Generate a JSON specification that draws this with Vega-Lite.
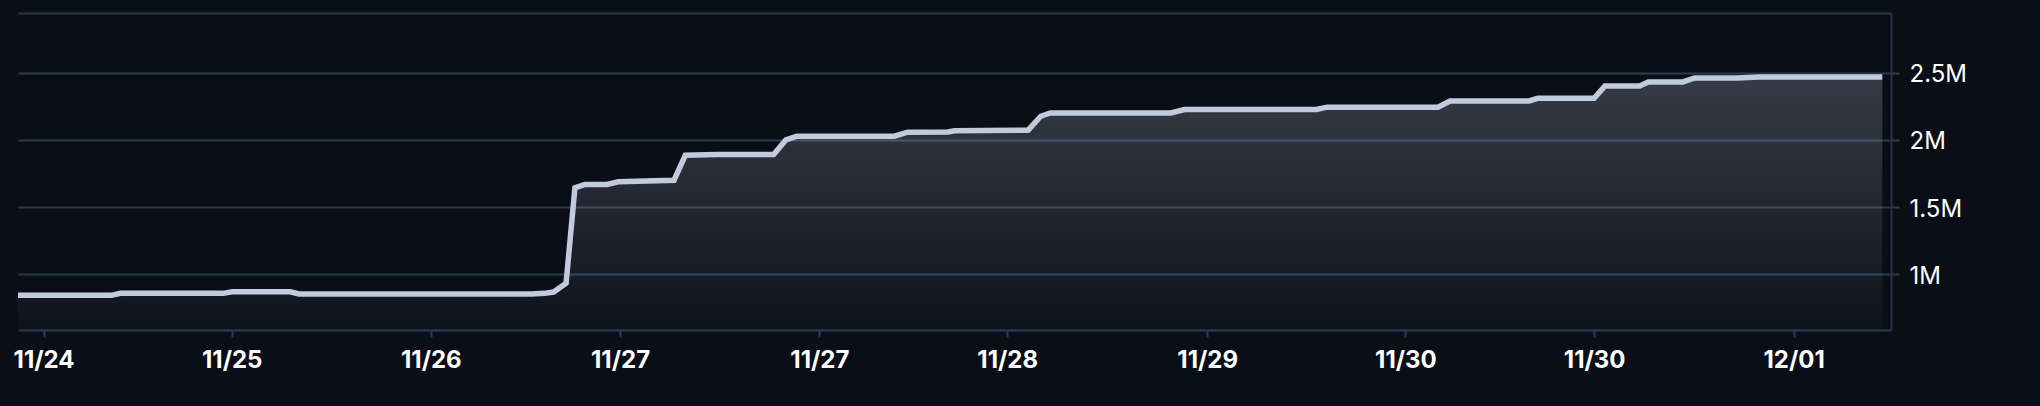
{
  "$schema": "https://vega.github.io/schema/vega-lite/v6.json",
  "width": 1873,
  "height": 317,
  "autosize": "none",
  "padding": {"left": 18, "top": 13, "right": 149, "bottom": 76},
  "background": "#0a0e17",
  "config": {"view": {"stroke": null}},
  "data": {
    "values": [
      {"time": "2024-11-24T15:27:00Z", "value": 841000},
      {"time": "2024-11-25T00:26:00Z", "value": 841000},
      {"time": "2024-11-25T01:17:00Z", "value": 856000},
      {"time": "2024-11-25T11:09:00Z", "value": 856000},
      {"time": "2024-11-25T12:01:00Z", "value": 868000},
      {"time": "2024-11-25T17:35:00Z", "value": 868000},
      {"time": "2024-11-25T18:26:00Z", "value": 851000},
      {"time": "2024-11-26T16:44:00Z", "value": 851000},
      {"time": "2024-11-26T18:01:00Z", "value": 856000},
      {"time": "2024-11-26T18:52:00Z", "value": 866000},
      {"time": "2024-11-26T20:04:00Z", "value": 931000},
      {"time": "2024-11-26T20:55:00Z", "value": 1643000},
      {"time": "2024-11-26T21:52:00Z", "value": 1668000},
      {"time": "2024-11-27T00:01:00Z", "value": 1668000},
      {"time": "2024-11-27T01:05:00Z", "value": 1688000},
      {"time": "2024-11-27T06:26:00Z", "value": 1700000},
      {"time": "2024-11-27T07:31:00Z", "value": 1887000},
      {"time": "2024-11-27T10:39:00Z", "value": 1892000},
      {"time": "2024-11-27T16:00:00Z", "value": 1892000},
      {"time": "2024-11-27T17:10:00Z", "value": 2000000},
      {"time": "2024-11-27T18:14:00Z", "value": 2028000},
      {"time": "2024-11-28T03:35:00Z", "value": 2028000},
      {"time": "2024-11-28T04:52:00Z", "value": 2058000},
      {"time": "2024-11-28T08:43:00Z", "value": 2060000},
      {"time": "2024-11-28T09:22:00Z", "value": 2068000},
      {"time": "2024-11-28T16:26:00Z", "value": 2073000},
      {"time": "2024-11-28T17:38:00Z", "value": 2177000},
      {"time": "2024-11-28T18:34:00Z", "value": 2202000},
      {"time": "2024-11-29T06:08:00Z", "value": 2202000},
      {"time": "2024-11-29T07:26:00Z", "value": 2227000},
      {"time": "2024-11-29T20:05:00Z", "value": 2227000},
      {"time": "2024-11-29T21:08:00Z", "value": 2245000},
      {"time": "2024-11-30T07:46:00Z", "value": 2245000},
      {"time": "2024-11-30T08:56:00Z", "value": 2291000},
      {"time": "2024-11-30T16:31:00Z", "value": 2291000},
      {"time": "2024-11-30T17:21:00Z", "value": 2311000},
      {"time": "2024-11-30T22:46:00Z", "value": 2311000},
      {"time": "2024-11-30T23:48:00Z", "value": 2403000},
      {"time": "2024-12-01T03:08:00Z", "value": 2403000},
      {"time": "2024-12-01T03:58:00Z", "value": 2433000},
      {"time": "2024-12-01T07:17:00Z", "value": 2433000},
      {"time": "2024-12-01T08:25:00Z", "value": 2463000},
      {"time": "2024-12-01T12:30:00Z", "value": 2463000},
      {"time": "2024-12-01T14:35:00Z", "value": 2470000},
      {"time": "2024-12-02T02:26:00Z", "value": 2470000}
    ]
  },
  "encoding": {
    "y": {
      "field": "value",
      "type": "quantitative",
      "scale": {"domain": [582700, 2947100], "nice": false, "zero": false},
      "axis": {
        "orient": "right",
        "values": [1000000, 1500000, 2000000, 2500000],
        "format": "~s",
        "title": null,
        "grid": true,
        "gridColor": "#2b3a53",
        "gridWidth": 2,
        "domain": true,
        "domainColor": "#2c2f46",
        "domainWidth": 2,
        "ticks": true,
        "tickColor": "#2b3a53",
        "tickWidth": 2,
        "tickSize": 8,
        "labelFont": "Inter",
        "labelFontSize": 24,
        "labelColor": "#ffffff",
        "labelPadding": 10,
        "labelOffset": 2
      }
    }
  },
  "layer": [
    {
      "mark": {
        "type": "area",
        "fill": {
          "gradient": "linear",
          "x1": 0, "y1": 0, "x2": 0, "y2": 1,
          "stops": [
            {"offset": 0, "color": "rgba(193,203,220,0.24)"},
            {"offset": 1, "color": "rgba(193,203,220,0.025)"}
          ]
        }
      },
      "encoding": {
        "x": {
          "field": "time",
          "type": "temporal",
          "scale": {
            "type": "utc",
            "domain": [
              {"year": 2024, "month": 11, "date": 24, "hours": 15, "minutes": 27, "utc": true},
              {"year": 2024, "month": 12, "date": 2, "hours": 3, "minutes": 16, "utc": true}
            ]
          },
          "axis": {
            "orient": "bottom",
            "title": null,
            "grid": false,
            "values": [
              {"year": 2024, "month": 11, "date": 24, "hours": 17, "minutes": 54, "utc": true},
              {"year": 2024, "month": 11, "date": 25, "hours": 11, "minutes": 58, "utc": true},
              {"year": 2024, "month": 11, "date": 26, "hours": 7, "minutes": 5, "utc": true},
              {"year": 2024, "month": 11, "date": 27, "hours": 1, "minutes": 15, "utc": true},
              {"year": 2024, "month": 11, "date": 27, "hours": 20, "minutes": 23, "utc": true},
              {"year": 2024, "month": 11, "date": 28, "hours": 14, "minutes": 25, "utc": true},
              {"year": 2024, "month": 11, "date": 29, "hours": 9, "minutes": 37, "utc": true},
              {"year": 2024, "month": 11, "date": 30, "hours": 4, "minutes": 39, "utc": true},
              {"year": 2024, "month": 11, "date": 30, "hours": 22, "minutes": 46, "utc": true},
              {"year": 2024, "month": 12, "date": 1, "hours": 17, "minutes": 55, "utc": true}
            ],
            "labelExpr": "utcFormat(datum.value, '%m/%d')",
            "domainColor": "#2b3a53",
            "domainWidth": 2,
            "tickColor": "#2b3a53",
            "tickWidth": 2,
            "tickSize": 7,
            "labelFont": "Inter",
            "labelFontWeight": 700,
            "labelFontSize": 24,
            "labelColor": "#ffffff",
            "labelPadding": 11,
            "labelFlush": false,
            "labelOverlap": false,
            "labelBound": false
          }
        },
        "y2": {"datum": 582700}
      }
    },
    {
      "mark": {"type": "line", "color": "#c1cbdc", "strokeWidth": 5.5},
      "encoding": {
        "x": {
          "field": "time",
          "type": "temporal",
          "axis": {
            "orient": "top",
            "title": null,
            "grid": false,
            "labels": false,
            "ticks": false,
            "domain": true,
            "domainColor": "#2b3a53",
            "domainWidth": 2
          }
        }
      }
    }
  ],
  "resolve": {"axis": {"x": "independent"}}
}
